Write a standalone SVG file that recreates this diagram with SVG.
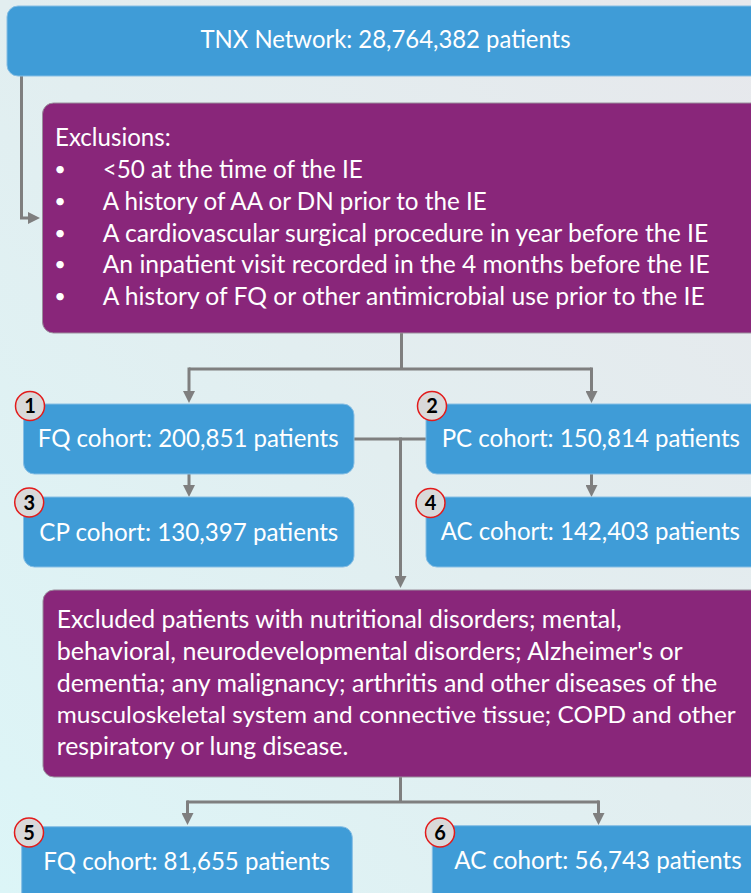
<svg xmlns="http://www.w3.org/2000/svg" width="751" height="893" viewBox="0 0 751 893">
<defs>
<linearGradient id="bg" x1="0" y1="1" x2="1" y2="0">
<stop offset="0" stop-color="#DCF5F7"/>
<stop offset="0.5" stop-color="#E2EEF0"/>
<stop offset="1" stop-color="#E7E8EC"/>
</linearGradient>
<marker id="arr" viewBox="0 0 12 12" refX="2" refY="6" markerWidth="12" markerHeight="12" markerUnits="userSpaceOnUse" orient="auto">
<path d="M0,0 L12,6 L0,12 z" fill="#7F7F7F"/>
</marker>
<style>
.blue{fill:#3F9CD7;stroke:#86BEE4;stroke-width:1}
.purple{fill:#89267A;stroke:#9A8E9C;stroke-width:1}
.t{font-family:Lato,"Open Sans","Liberation Sans",sans-serif;font-size:25px;fill:#FFFFFF}
.b{font-family:Lato,"Open Sans","Liberation Sans",sans-serif;font-size:20px;fill:#FFFFFF;text-anchor:middle}
.badge circle{fill:#D9D9D9;stroke:#E21B1B;stroke-width:1.5}
.badge text{font-family:Lato,"Liberation Sans",sans-serif;font-weight:bold;font-size:20px;fill:#000000;text-anchor:middle}
.c{fill:none;stroke:#7F7F7F;stroke-width:3}
</style>
</defs>
<rect x="0" y="0" width="751" height="893" fill="url(#bg)"/>

<g id="connectors">
<path class="c" d="M21.5,76 V218 H30" marker-end="url(#arr)"/>
<path class="c" d="M401.5,333 V369"/>
<path class="c" d="M189,369 H591.5"/>
<path class="c" d="M189,367.5 V393" marker-end="url(#arr)"/>
<path class="c" d="M591.5,367.5 V393" marker-end="url(#arr)"/>
<path class="c" d="M189,474 V487" marker-end="url(#arr)"/>
<path class="c" d="M591.5,474 V487" marker-end="url(#arr)"/>
<path class="c" d="M354,439 H426"/>
<path class="c" d="M400.5,437.5 V578" marker-end="url(#arr)"/>
<path class="c" d="M400.5,777 V802"/>
<path class="c" d="M187,802 H599"/>
<path class="c" d="M187.5,800.5 V815" marker-end="url(#arr)"/>
<path class="c" d="M598.5,800.5 V815" marker-end="url(#arr)"/>
</g>

<g id="tnx">
<rect class="blue" x="7" y="6" width="760" height="70" rx="11"/>
<text class="t" x="200.5" y="48" textLength="370" lengthAdjust="spacingAndGlyphs">TNX Network: 28,764,382 patients</text>
</g>

<g id="exclusions">
<rect class="purple" x="42.5" y="103" width="730" height="230" rx="11"/>
<text class="t" x="55" y="146" textLength="115.7" lengthAdjust="spacingAndGlyphs">Exclusions:</text>
<g class="b">
<text x="60" y="176">•</text>
<text x="60" y="208">•</text>
<text x="60" y="239.5">•</text>
<text x="60" y="271">•</text>
<text x="60" y="302.5">•</text>
</g>
<text class="t" x="102.7" y="178" textLength="260" lengthAdjust="spacingAndGlyphs">&lt;50 at the time of the IE</text>
<text class="t" x="102.7" y="210" textLength="384" lengthAdjust="spacingAndGlyphs">A history of AA or DN prior to the IE</text>
<text class="t" x="102.7" y="241.5" textLength="605.6" lengthAdjust="spacingAndGlyphs">A cardiovascular surgical procedure in year before the IE</text>
<text class="t" x="102.7" y="273" textLength="607" lengthAdjust="spacingAndGlyphs">An inpatient visit recorded in the 4 months before the IE</text>
<text class="t" x="102.7" y="304.5" textLength="602" lengthAdjust="spacingAndGlyphs">A history of FQ or other antimicrobial use prior to the IE</text>
</g>

<g id="fq1">
<rect class="blue" x="23.5" y="404" width="330.5" height="70" rx="11"/>
<text class="t" x="37.7" y="447" textLength="301" lengthAdjust="spacingAndGlyphs">FQ cohort: 200,851 patients</text>
<g class="badge"><circle cx="30" cy="406" r="14.5"/><text x="30" y="413">1</text></g>
</g>

<g id="pc2">
<rect class="blue" x="426" y="404" width="340" height="70" rx="11"/>
<text class="t" x="441.7" y="447.3" textLength="298.3" lengthAdjust="spacingAndGlyphs">PC cohort: 150,814 patients</text>
<g class="badge"><circle cx="432" cy="406" r="14.5"/><text x="432" y="413">2</text></g>
</g>

<g id="cp3">
<rect class="blue" x="23.5" y="497" width="330.5" height="70" rx="11"/>
<text class="t" x="39.3" y="540.7" textLength="299" lengthAdjust="spacingAndGlyphs">CP cohort: 130,397 patients</text>
<g class="badge"><circle cx="29.2" cy="502.5" r="14.5"/><text x="29.2" y="509.5">3</text></g>
</g>

<g id="ac4">
<rect class="blue" x="426" y="497" width="340" height="70" rx="11"/>
<text class="t" x="440.7" y="540.3" textLength="299.3" lengthAdjust="spacingAndGlyphs">AC cohort: 142,403 patients</text>
<g class="badge"><circle cx="430.5" cy="503" r="14.5"/><text x="430.5" y="510">4</text></g>
</g>

<g id="excluded">
<rect class="purple" x="43" y="590" width="730" height="187" rx="11"/>
<text class="t" x="56.7" y="628" textLength="565" lengthAdjust="spacingAndGlyphs">Excluded patients with nutritional disorders; mental,</text>
<text class="t" x="56.7" y="660" textLength="626" lengthAdjust="spacingAndGlyphs">behavioral, neurodevelopmental disorders; Alzheimer's or</text>
<text class="t" x="56.7" y="691.7" textLength="660.6" lengthAdjust="spacingAndGlyphs">dementia; any malignancy; arthritis and other diseases of the</text>
<text class="t" x="56.7" y="723.3" style="font-size:24px" textLength="679" lengthAdjust="spacingAndGlyphs">musculoskeletal system and connective tissue; COPD and other</text>
<text class="t" x="56.7" y="755" textLength="291.6" lengthAdjust="spacingAndGlyphs">respiratory or lung disease.</text>
</g>

<g id="fq5">
<rect class="blue" x="21.7" y="826.7" width="330.6" height="80" rx="11"/>
<text class="t" x="43.3" y="870" textLength="286.7" lengthAdjust="spacingAndGlyphs">FQ cohort: 81,655 patients</text>
<g class="badge"><circle cx="29" cy="832.5" r="14.5"/><text x="29" y="839.5">5</text></g>
</g>

<g id="ac6">
<rect class="blue" x="432.3" y="825.7" width="340" height="80" rx="11"/>
<text class="t" x="454.3" y="869.3" textLength="287.4" lengthAdjust="spacingAndGlyphs">AC cohort: 56,743 patients</text>
<g class="badge"><circle cx="440" cy="832.5" r="14.5"/><text x="440" y="839.5">6</text></g>
</g>
</svg>
